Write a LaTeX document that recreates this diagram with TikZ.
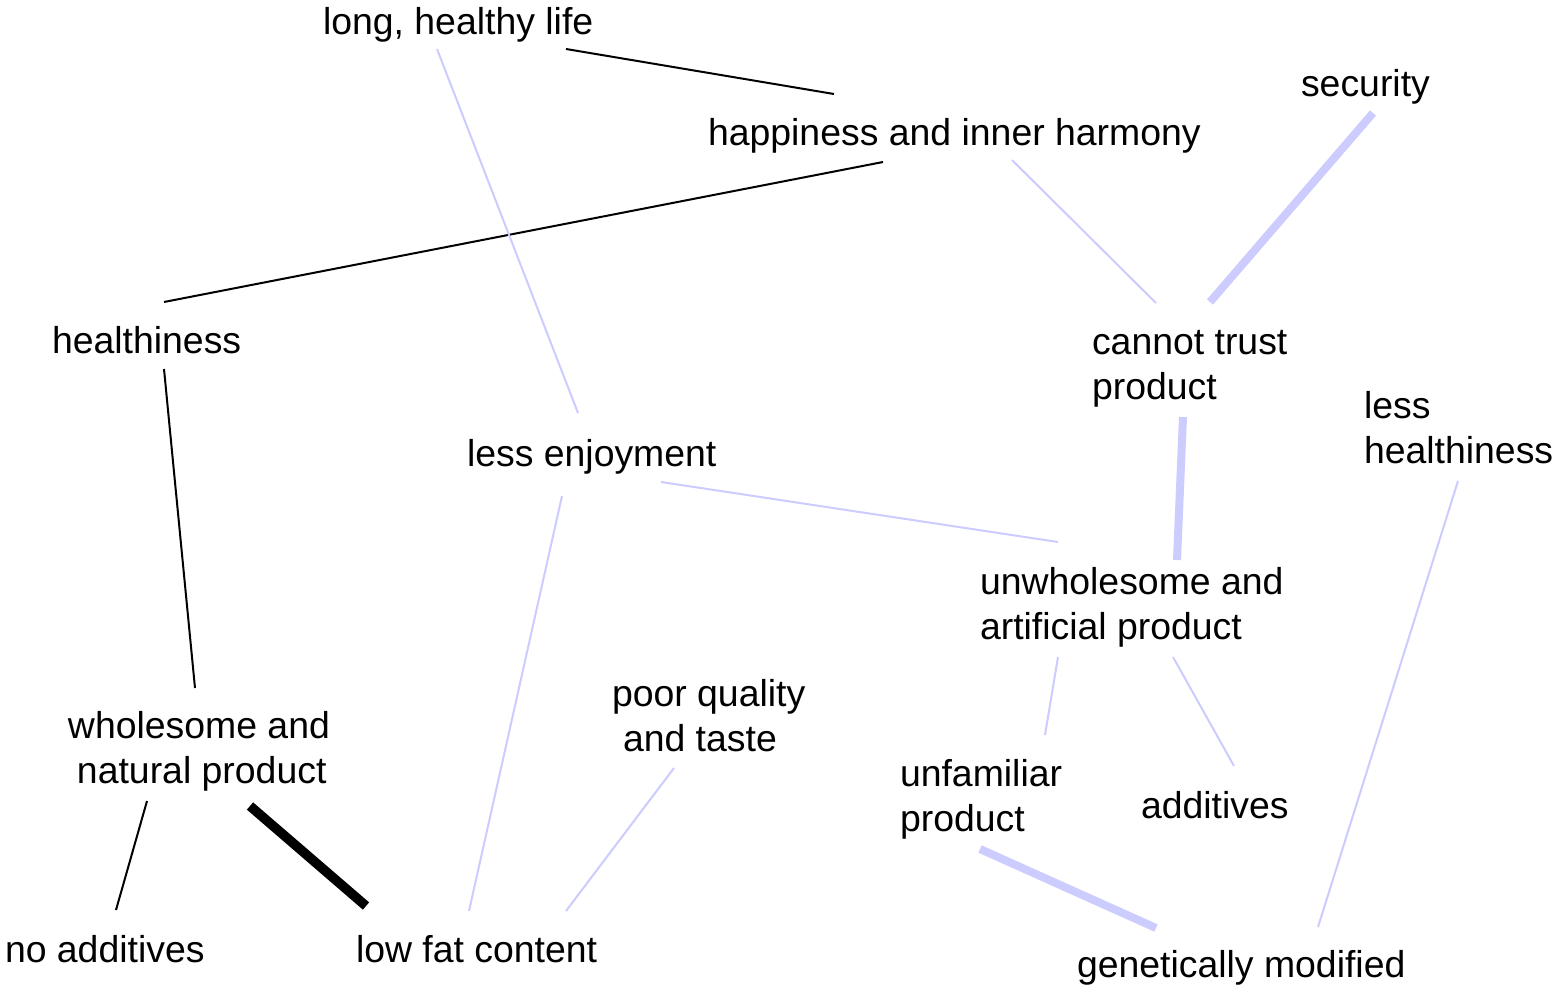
\documentclass[tikz,border=0pt]{standalone}
\usepackage{fontspec}
\setmainfont{Liberation Sans}
\definecolor{linkblue}{RGB}{204,204,255}
\begin{document}
\begin{tikzpicture}[x=0.5pt,y=-0.5pt,
  lbl/.style={anchor=north west, inner sep=0pt, outer sep=0pt, align=left,
              font=\fontsize{18.7}{22.5}\selectfont},
  poslink/.style={black, line width=1pt},
  neglink/.style={linkblue, line width=1pt},
  strongpos/.style={black, line width=4.8pt},
  strongneg/.style={linkblue, line width=4pt}]

% canvas
\fill[white] (0,0) rectangle (1554,985);
\useasboundingbox (0,0) rectangle (1554,985);

% concepts
\node[lbl] (life)    at (323,2.5)     {\strut long, healthy life};
\node[lbl] (happy)   at (708,113.5)   {\strut happiness and inner harmony};
\node[lbl] (secur)   at (1301,64.5)   {\strut security};
\node[lbl] (health)  at (52,321.5)    {\strut healthiness};
\node[lbl] (trust)   at (1092,322.5)  {\strut cannot trust\\\strut product};
\node[lbl] (lesshl)  at (1364,386.5)  {\strut less\\\strut healthiness};
\node[lbl] (enjoy)   at (467,434.5)   {\strut less enjoyment};
\node[lbl] (unwhole) at (980,562.5)   {\strut unwholesome and\\\strut artificial product};
\node[lbl] (poor)    at (612,674.5)   {\strut poor quality\\\hspace*{5.5pt}\strut and taste};
\node[lbl] (whole)   at (68,706.5)    {\strut wholesome and\\\hspace*{4.5pt}\strut natural product};
\node[lbl] (unfam)   at (900,754.5)   {\strut unfamiliar\\\strut product};
\node[lbl] (addit)   at (1141,786.5)  {\strut additives};
\node[lbl] (noadd)   at (5,930.5)     {\strut no additives};
\node[lbl] (lowfat)  at (356,930.5)   {\strut low fat content};
\node[lbl] (gm)      at (1077,945.5)  {\strut genetically modified};

% positive links
\draw[poslink] ([shift={(243,46.5)}]life.north west) -- ([shift={(126,-19.5)}]happy.north west);
\draw[poslink] ([shift={(175,48.5)}]happy.north west) -- ([shift={(112,-19.5)}]health.north west);
\draw[poslink] ([shift={(112,47.5)}]health.north west) -- ([shift={(127,-18.5)}]whole.north west);
\draw[poslink] ([shift={(79,94.5)}]whole.north west) -- ([shift={(111,-20.5)}]noadd.north west);
\draw[strongpos] ([shift={(182,99.5)}]whole.north west) -- ([shift={(10,-24.5)}]lowfat.north west);

% negative links
\draw[neglink] ([shift={(114,46.5)}]life.north west) -- ([shift={(111,-21.5)}]enjoy.north west);
\draw[neglink] ([shift={(304,46.5)}]happy.north west) -- ([shift={(64,-19.5)}]trust.north west);
\draw[strongneg] ([shift={(72,48.5)}]secur.north west) -- ([shift={(118,-20.5)}]trust.north west);
\draw[strongneg] ([shift={(91,94.5)}]trust.north west) -- ([shift={(197,-2.5)}]unwhole.north west);
\draw[neglink] ([shift={(194,47.5)}]enjoy.north west) -- ([shift={(78,-20.5)}]unwhole.north west);
\draw[neglink] ([shift={(95,61.5)}]enjoy.north west) -- ([shift={(113,-19.5)}]lowfat.north west);
\draw[neglink] ([shift={(62,93.5)}]poor.north west) -- ([shift={(210,-19.5)}]lowfat.north west);
\draw[neglink] ([shift={(78,94.5)}]unwhole.north west) -- ([shift={(145,-19.5)}]unfam.north west);
\draw[neglink] ([shift={(193,94.5)}]unwhole.north west) -- ([shift={(93,-20.5)}]addit.north west);
\draw[strongneg] ([shift={(80,94.5)}]unfam.north west) -- ([shift={(79,-17.5)}]gm.north west);
\draw[neglink] ([shift={(94,94.5)}]lesshl.north west) -- ([shift={(241,-18.5)}]gm.north west);
\end{tikzpicture}
\end{document}
